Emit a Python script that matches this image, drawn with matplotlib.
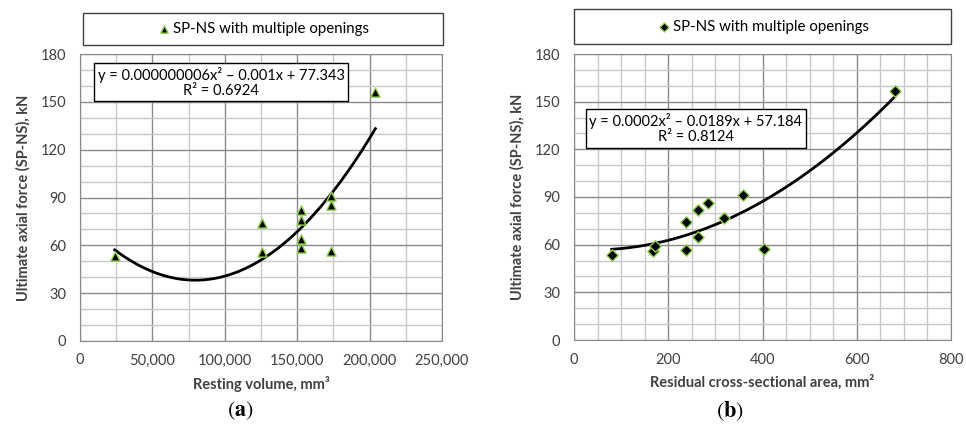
import numpy as np
import matplotlib
matplotlib.use("Agg")
import matplotlib.pyplot as plt
from matplotlib.patches import Rectangle
from matplotlib.ticker import MultipleLocator, FuncFormatter

plt.rcParams['font.family'] = ['Lato', 'DejaVu Sans']
plt.rcParams['mathtext.fontset'] = 'stix'

# data
vol = [24000, 126000, 126000, 152500, 152500, 152500, 152500, 173500, 173500, 173500, 204000]
force_a = [53.5, 56, 74, 82, 76, 64, 58.5, 91, 85.5, 56.5, 156]

area = [80, 167, 172, 237, 237, 263, 263, 284, 319, 359, 403, 681]
force_b = [53.5, 56, 59, 56.7, 74.5, 64.6, 82, 86, 77, 91, 57, 157]

legend_txt = "SP-NS with multiple openings"
eq_a = "y = 0.000000006x\u00b2 \u2013 0.001x + 77.343\nR\u00b2 = 0.6924"
eq_b = "y = 0.0002x\u00b2 \u2013 0.0189x + 57.184\nR\u00b2 = 0.8124"

W, H = 966, 437
fig = plt.figure(figsize=(W / 100, H / 100), dpi=100)
FS = 10.5


def px(l, t, r, b):
    return [l / W, 1 - b / H, (r - l) / W, (b - t) / H]


def panel(rect, x, y, marker, xmax, xmaj, xmin, xlab, eq, eqpos, legrect, tag, tagx):
    ax = fig.add_axes(px(*rect))
    ax.set_xlim(0, xmax)
    ax.set_ylim(0, 180)
    ax.xaxis.set_major_locator(MultipleLocator(xmaj))
    ax.xaxis.set_minor_locator(MultipleLocator(xmin))
    ax.yaxis.set_major_locator(MultipleLocator(30))
    ax.yaxis.set_minor_locator(MultipleLocator(10))
    ax.grid(which='minor', color='#c8c8c8', lw=1.0)
    ax.grid(which='major', color='#8a8a8a', lw=1.0)
    ax.set_axisbelow(True)
    ax.tick_params(which='both', length=0, labelsize=FS, colors='#404040')
    ax.tick_params(axis='y', pad=10)
    ax.tick_params(axis='x', pad=9)
    ax.xaxis.set_major_formatter(FuncFormatter(lambda v, p: f"{v:,.0f}"))
    for s in ax.spines.values():
        s.set_color('#8a8a8a')

    # quadratic trend line, fitted on the points
    c = np.polyfit(x, y, 2)
    xs = np.linspace(min(x), max(x), 200)
    ax.plot(xs, np.polyval(c, xs), color='black', lw=2, zorder=2)
    h = ax.scatter(x, y, marker=marker, s=44 if marker == '^' else 34, c='black',
                   edgecolors='#92d050', linewidths=1.0, zorder=3)

    ax.set_xlabel(xlab, fontsize=FS, fontweight='bold', color='#404040', labelpad=6)
    ax.set_ylabel("Ultimate axial force (SP-NS), kN", fontsize=FS,
                  fontweight='bold', color='#404040', labelpad=7)
    ax.text(eqpos[0], eqpos[1], eq, transform=ax.transAxes, ha='center', va='center',
            multialignment='center', fontsize=FS, color='black', linespacing=1.1,
            bbox=dict(boxstyle='square,pad=0.25', fc='white', ec='black', lw=1))

    l, t, r, b = legrect
    fig.patches.append(Rectangle((l / W, 1 - b / H), (r - l) / W, (b - t) / H,
                                 transform=fig.transFigure, fc='white', ec='#404040', lw=1))
    fig.legend([h], [legend_txt], loc='center', frameon=False, fontsize=FS + 0.3,
               handletextpad=0.1, handlelength=1.0, markerscale=0.8,
               bbox_to_anchor=((l + r) / 2 / W, 1 - (t + b) / 2 / H))

    fig.text(tagx / W, 1 - 411 / H, "(" + r"$\mathbf{" + tag + "}$" + ")",
             fontsize=16, family='STIXGeneral', ha='center', va='center')
    return ax


panel((80, 54, 442, 341), vol, force_a, '^', 250000, 50000, 25000,
      "Resting volume, mm\u00b3", eq_a, (0.39, 0.902), (83, 13, 443, 45), 'a', 240)
panel((574, 54, 951, 340), area, force_b, 'D', 800, 200, 50,
      "Residual cross-sectional area, mm\u00b2", eq_b, (0.323, 0.739), (574, 9, 951, 44), 'b', 730)

fig.savefig("out.png", dpi=100)
